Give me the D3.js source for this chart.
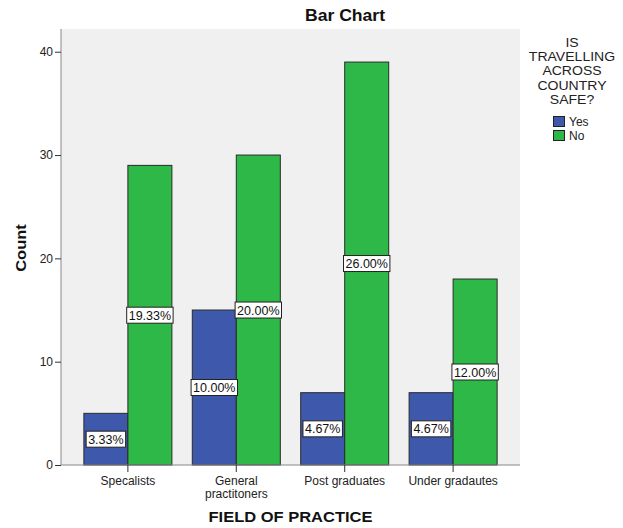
<!DOCTYPE html>
<html>
<head>
<meta charset="utf-8">
<script src="https://cdn.jsdelivr.net/npm/d3@7"></script>
<style>
  html, body { margin: 0; padding: 0; background: #fff; }
  svg { display: block; font-family: "Liberation Sans", Arial, sans-serif; }
</style>
</head>
<body>
<svg id="chart" width="623" height="528"></svg>
<script>
// Field of practice vs. "Is travelling across country safe?"
const categories = ["Specalists", "General\npractitoners", "Post graduates", "Under gradautes"];
const groups = ["Yes", "No"];
const yesCounts = [5, 15, 7, 7];
const noCounts = [29, 30, 39, 18];
const yesLabels = ["3.33%", "10.00%", "4.67%", "4.67%"];
const noLabels = ["19.33%", "20.00%", "26.00%", "12.00%"];
const yTicks = [0, 10, 20, 30, 40];
const colors = { Yes: "#3e58ac", No: "#2eb848" };

const svg = d3.select("#chart");
const plot = { left: 61, right: 520, top: 29, bottom: 465 };

const rows = categories.map((c, i) => ({
  cat: c,
  Yes: { v: yesCounts[i], label: yesLabels[i] },
  No: { v: noCounts[i], label: noLabels[i] }
}));

const x = d3.scaleBand().domain(categories)
  .range([plot.left, plot.right]).paddingInner(0.188).paddingOuter(0.211);
const xi = d3.scaleBand().domain(groups).range([0, x.bandwidth()]);
const y = d3.scaleLinear().domain([0, 42.2]).range([plot.bottom, plot.top]);

// plot background
svg.append("rect")
  .attr("x", plot.left).attr("y", plot.top)
  .attr("width", plot.right - plot.left).attr("height", plot.bottom - plot.top)
  .attr("fill", "#f0f0f0");

// bars
const g = svg.append("g");
rows.forEach(r => {
  groups.forEach(k => {
    g.append("rect")
      .attr("x", x(r.cat) + xi(k))
      .attr("y", y(r[k].v))
      .attr("width", xi.bandwidth())
      .attr("height", y(0) - y(r[k].v))
      .attr("fill", colors[k])
      .attr("stroke", "#2b2b2b")
      .attr("stroke-width", 1);
  });
});

// axes
const yAxis = d3.axisLeft(y).tickValues(yTicks).tickSize(6).tickPadding(2).tickFormat(d3.format("d"));
const yg = svg.append("g").attr("transform", `translate(${plot.left},0)`).call(yAxis);
yg.select(".domain").attr("stroke", "#888").attr("d", `M0,${plot.top}V${plot.bottom}`);
yg.selectAll(".tick line").attr("stroke", "#333");
yg.selectAll(".tick text").attr("font-size", 12).attr("fill", "#222")
  .attr("font-family", "Liberation Sans, Arial, sans-serif");

const xAxis = d3.axisBottom(x).tickSize(7).tickFormat("");
const xg = svg.append("g").attr("transform", `translate(0,${plot.bottom})`).call(xAxis);
xg.select(".domain").attr("stroke", "#888").attr("d", `M${plot.left},0H${plot.right}`);
xg.selectAll(".tick line").attr("stroke", "#333");
xg.selectAll(".tick").each(function(d) {
  const lines = d.split("\n");
  const t = d3.select(this).append("text")
    .attr("text-anchor", "middle").attr("fill", "#222")
    .attr("font-size", 12)
    .attr("font-family", "Liberation Sans, Arial, sans-serif");
  lines.forEach((ln, i) => {
    t.append("tspan").attr("x", 0).attr("y", 20 + i * 13).text(ln);
  });
});

// value labels in white boxes
const lab = svg.append("g");
rows.forEach(r => {
  groups.forEach(k => {
    const cx = x(r.cat) + xi(k) + xi.bandwidth() / 2;
    const cy = y(r[k].v / 2);
    const gg = lab.append("g").attr("transform", `translate(${cx},${cy})`);
    const t = gg.append("text")
      .attr("text-anchor", "middle").attr("dy", "0.36em")
      .attr("font-size", 12.5).attr("fill", "#111")
      .text(r[k].label);
    const w = t.node().getComputedTextLength();
    gg.insert("rect", "text")
      .attr("x", -w / 2 - 2).attr("y", -8)
      .attr("width", w + 4).attr("height", 16)
      .attr("fill", "#fff").attr("stroke", "#222").attr("stroke-width", 1);
  });
});

// stretched text helper
function label(txt, cx, cy, size, weight, sx, rot) {
  return svg.append("text")
    .attr("transform", `translate(${cx},${cy}) rotate(${rot || 0}) scale(${sx},1)`)
    .attr("text-anchor", "middle")
    .attr("font-size", size).attr("font-weight", weight).attr("fill", "#111")
    .text(txt);
}

label("Bar Chart", 345, 21, 16, "bold", 1.1);
label("FIELD OF PRACTICE", (plot.left + plot.right) / 2, 522, 15, "bold", 1.1);
label("Count", 26, 248, 15, "bold", 1.1, -90);

// legend
const legTitle = ["IS", "TRAVELLING", "ACROSS", "COUNTRY", "SAFE?"];
legTitle.forEach((s, i) => label(s, 572, 47 + i * 14.2, 12, "normal", 1.17).attr("fill", "#222"));
groups.forEach((k, i) => {
  svg.append("rect")
    .attr("x", 553.5).attr("y", 116.5 + i * 14)
    .attr("width", 11).attr("height", 10)
    .attr("fill", colors[k]).attr("stroke", "#222");
  svg.append("text")
    .attr("x", 569).attr("y", 126 + i * 14)
    .attr("font-size", 12).attr("fill", "#222").text(k);
});
</script>
</body>
</html>
